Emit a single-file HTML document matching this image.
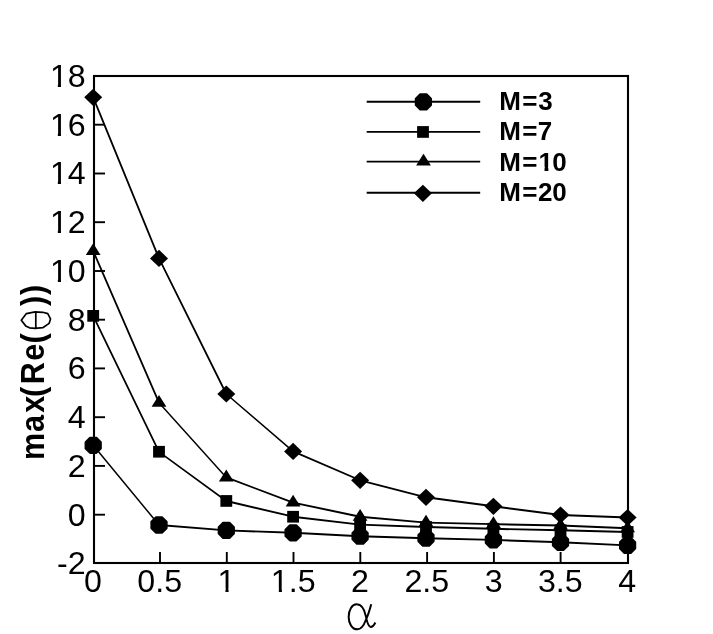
<!DOCTYPE html>
<html><head><meta charset="utf-8"><title>chart</title>
<style>
html,body{margin:0;padding:0;background:#fff;}
body{width:713px;height:634px;overflow:hidden;}
svg{display:block;filter:grayscale(1);}
text{font-family:"Liberation Sans",sans-serif;fill:#000;}
.tk{font-size:32.2px;}
.lg{font-size:26px;font-weight:bold;}
.yt{font-size:31px;font-weight:bold;}
</style></head><body>
<svg width="713" height="634" viewBox="0 0 713 634">
<rect width="713" height="634" fill="#fff"/>
<g stroke="#000" stroke-width="2.1" fill="none" stroke-linecap="square">
<rect x="94.0" y="76.0" width="534.0" height="487.0"/>
</g>
<g stroke="#000" stroke-width="1.9" fill="none">
<path d="M94.0 514.7H105"/>
<path d="M94.0 465.9H105"/>
<path d="M94.0 417.2H105"/>
<path d="M94.0 368.4H105"/>
<path d="M94.0 319.7H105"/>
<path d="M94.0 271.0H105"/>
<path d="M94.0 222.2H105"/>
<path d="M94.0 173.5H105"/>
<path d="M94.0 124.7H105"/>
<path d="M160.0 563.0V552"/>
<path d="M226.8 563.0V552"/>
<path d="M293.5 563.0V552"/>
<path d="M360.3 563.0V552"/>
<path d="M427.1 563.0V552"/>
<path d="M493.9 563.0V552"/>
<path d="M560.6 563.0V552"/>
</g>
<g stroke="#000" fill="none" stroke-linecap="round">
<path d="M93.2 97.3L159.0 258.4" stroke-width="1.81"/>
<path d="M159.0 258.4L226.3 394.0" stroke-width="1.75"/>
<path d="M226.3 394.0L293.1 451.4" stroke-width="1.48"/>
<path d="M293.1 451.4L360.1 480.3" stroke-width="1.79"/>
<path d="M360.1 480.3L426.0 497.3" stroke-width="1.89"/>
<path d="M426.0 497.3L493.4 506.3" stroke-width="1.93"/>
<path d="M493.4 506.3L560.5 515.0" stroke-width="1.93"/>
<path d="M560.5 515.0L627.6 517.5" stroke-width="1.95"/>
<path d="M93.2 251.0L159.0 402.7" stroke-width="1.79"/>
<path d="M159.0 402.7L226.3 477.4" stroke-width="1.45"/>
<path d="M226.3 477.4L293.1 502.6" stroke-width="1.82"/>
<path d="M293.1 502.6L360.1 516.7" stroke-width="1.91"/>
<path d="M360.1 516.7L426.0 522.6" stroke-width="1.94"/>
<path d="M426.0 522.6L493.4 524.1" stroke-width="1.95"/>
<path d="M493.4 524.1L560.5 525.5" stroke-width="1.95"/>
<path d="M560.5 525.5L627.6 528.3" stroke-width="1.95"/>
<path d="M93.2 315.9L159.0 451.8" stroke-width="1.76"/>
<path d="M159.0 451.8L226.3 501.0" stroke-width="1.57"/>
<path d="M226.3 501.0L293.1 516.7" stroke-width="1.90"/>
<path d="M293.1 516.7L360.1 524.6" stroke-width="1.94"/>
<path d="M360.1 524.6L426.0 527.0" stroke-width="1.95"/>
<path d="M426.0 527.0L493.4 528.8" stroke-width="1.95"/>
<path d="M493.4 528.8L560.5 530.3" stroke-width="1.95"/>
<path d="M560.5 530.3L627.6 532.0" stroke-width="1.95"/>
<path d="M93.2 445.3L159.0 525.0" stroke-width="1.50"/>
<path d="M159.0 525.0L226.3 530.4" stroke-width="1.94"/>
<path d="M226.3 530.4L293.1 532.8" stroke-width="1.95"/>
<path d="M293.1 532.8L360.1 536.2" stroke-width="1.95"/>
<path d="M360.1 536.2L426.0 538.2" stroke-width="1.95"/>
<path d="M426.0 538.2L493.4 539.9" stroke-width="1.95"/>
<path d="M493.4 539.9L560.5 542.3" stroke-width="1.95"/>
<path d="M560.5 542.3L627.6 545.4" stroke-width="1.95"/>
</g>
<g stroke="#000" stroke-width="1.9" fill="none">
<path d="M366.7 101.7H480.2"/>
<path d="M366.7 131.9H480.2"/>
<path d="M366.7 161.6H480.2"/>
<path d="M366.7 192.8H480.2"/>
</g>
<g fill="#000" stroke="none">
<path d="M93.2 88.7L102.2 97.3L93.2 105.9L84.2 97.3Z"/>
<path d="M159.0 249.8L168.0 258.4L159.0 267.0L150.0 258.4Z"/>
<path d="M226.3 385.4L235.3 394.0L226.3 402.6L217.3 394.0Z"/>
<path d="M293.1 442.8L302.1 451.4L293.1 460.0L284.1 451.4Z"/>
<path d="M360.1 471.7L369.1 480.3L360.1 488.9L351.1 480.3Z"/>
<path d="M426.0 488.7L435.0 497.3L426.0 505.9L417.0 497.3Z"/>
<path d="M493.4 497.7L502.4 506.3L493.4 514.9L484.4 506.3Z"/>
<path d="M560.5 506.4L569.5 515.0L560.5 523.6L551.5 515.0Z"/>
<path d="M627.6 508.9L636.6 517.5L627.6 526.1L618.6 517.5Z"/>
<path d="M93.2 243.2L100.6 255.0L85.8 255.0Z"/>
<path d="M159.0 394.9L166.4 406.7L151.6 406.7Z"/>
<path d="M226.3 469.6L233.7 481.4L218.9 481.4Z"/>
<path d="M293.1 494.8L300.5 506.6L285.7 506.6Z"/>
<path d="M360.1 508.9L367.5 520.7L352.7 520.7Z"/>
<path d="M426.0 514.8L433.4 526.6L418.6 526.6Z"/>
<path d="M493.4 516.3L500.8 528.1L486.0 528.1Z"/>
<path d="M560.5 517.7L567.9 529.5L553.1 529.5Z"/>
<path d="M627.6 520.5L635.0 532.3L620.2 532.3Z"/>
<rect x="87.3" y="310.0" width="11.8" height="11.7"/>
<rect x="153.1" y="445.9" width="11.8" height="11.7"/>
<rect x="220.4" y="495.1" width="11.8" height="11.7"/>
<rect x="287.2" y="510.9" width="11.8" height="11.7"/>
<rect x="354.2" y="518.8" width="11.8" height="11.7"/>
<rect x="420.1" y="521.1" width="11.8" height="11.7"/>
<rect x="487.5" y="522.9" width="11.8" height="11.7"/>
<rect x="554.6" y="524.4" width="11.8" height="11.7"/>
<rect x="621.7" y="526.1" width="11.8" height="11.7"/>
<polygon points="100.73,448.42 96.32,452.83 90.08,452.83 85.67,448.42 85.67,442.18 90.08,437.77 96.32,437.77 100.73,442.18" stroke="#000" stroke-width="2.2" stroke-linejoin="round"/>
<polygon points="166.53,528.12 162.12,532.53 155.88,532.53 151.47,528.12 151.47,521.88 155.88,517.47 162.12,517.47 166.53,521.88" stroke="#000" stroke-width="2.2" stroke-linejoin="round"/>
<polygon points="233.83,533.52 229.42,537.93 223.18,537.93 218.77,533.52 218.77,527.28 223.18,522.87 229.42,522.87 233.83,527.28" stroke="#000" stroke-width="2.2" stroke-linejoin="round"/>
<polygon points="300.63,535.92 296.22,540.33 289.98,540.33 285.57,535.92 285.57,529.68 289.98,525.27 296.22,525.27 300.63,529.68" stroke="#000" stroke-width="2.2" stroke-linejoin="round"/>
<polygon points="367.63,539.32 363.22,543.73 356.98,543.73 352.57,539.32 352.57,533.08 356.98,528.67 363.22,528.67 367.63,533.08" stroke="#000" stroke-width="2.2" stroke-linejoin="round"/>
<polygon points="433.53,541.32 429.12,545.73 422.88,545.73 418.47,541.32 418.47,535.08 422.88,530.67 429.12,530.67 433.53,535.08" stroke="#000" stroke-width="2.2" stroke-linejoin="round"/>
<polygon points="500.93,543.02 496.52,547.43 490.28,547.43 485.87,543.02 485.87,536.78 490.28,532.37 496.52,532.37 500.93,536.78" stroke="#000" stroke-width="2.2" stroke-linejoin="round"/>
<polygon points="568.03,545.42 563.62,549.83 557.38,549.83 552.97,545.42 552.97,539.18 557.38,534.77 563.62,534.77 568.03,539.18" stroke="#000" stroke-width="2.2" stroke-linejoin="round"/>
<polygon points="635.13,548.52 630.72,552.93 624.48,552.93 620.07,548.52 620.07,542.28 624.48,537.87 630.72,537.87 635.13,542.28" stroke="#000" stroke-width="2.2" stroke-linejoin="round"/>
<polygon points="430.93,105.02 426.52,109.43 420.28,109.43 415.87,105.02 415.87,98.78 420.28,94.37 426.52,94.37 430.93,98.78" stroke="#000" stroke-width="2.2" stroke-linejoin="round"/>
<rect x="417.1" y="126.1" width="11.8" height="11.7"/>
<path d="M423.5 153.8L430.9 165.6L416.1 165.6Z"/>
<path d="M422.9 184.7L431.9 193.3L422.9 201.9L413.9 193.3Z"/>
</g>
<text class="tk" x="85.7" y="574.2" text-anchor="end">-2</text>
<text class="tk" x="85.7" y="525.5" text-anchor="end">0</text>
<text class="tk" x="85.7" y="476.7" text-anchor="end">2</text>
<text class="tk" x="85.7" y="428.0" text-anchor="end">4</text>
<text class="tk" x="85.7" y="379.2" text-anchor="end">6</text>
<text class="tk" x="85.7" y="330.5" text-anchor="end">8</text>
<text class="tk" x="85.7" y="281.8" text-anchor="end">10</text>
<rect x="51.74" y="277.95" width="6.09" height="4.61" fill="#fff"/><rect x="60.98" y="277.95" width="5.84" height="4.61" fill="#fff"/>
<text class="tk" x="85.7" y="233.0" text-anchor="end">12</text>
<rect x="51.74" y="229.21" width="6.09" height="4.61" fill="#fff"/><rect x="60.98" y="229.21" width="5.84" height="4.61" fill="#fff"/>
<text class="tk" x="85.7" y="184.3" text-anchor="end">14</text>
<rect x="51.74" y="180.47" width="6.09" height="4.61" fill="#fff"/><rect x="60.98" y="180.47" width="5.84" height="4.61" fill="#fff"/>
<text class="tk" x="85.7" y="135.5" text-anchor="end">16</text>
<rect x="51.74" y="131.73" width="6.09" height="4.61" fill="#fff"/><rect x="60.98" y="131.73" width="5.84" height="4.61" fill="#fff"/>
<text class="tk" x="85.7" y="86.8" text-anchor="end">18</text>
<rect x="51.74" y="82.99" width="6.09" height="4.61" fill="#fff"/><rect x="60.98" y="82.99" width="5.84" height="4.61" fill="#fff"/>
<text class="tk" x="92.9" y="592.3" text-anchor="middle">0</text>
<text class="tk" x="159.7" y="592.3" text-anchor="middle">0.5</text>
<text class="tk" x="226.4" y="592.3" text-anchor="middle">1</text>
<rect x="219.35" y="588.49" width="6.09" height="4.61" fill="#fff"/><rect x="228.59" y="588.49" width="5.84" height="4.61" fill="#fff"/>
<text class="tk" x="293.2" y="592.3" text-anchor="middle">1.5</text>
<rect x="272.70" y="588.49" width="6.09" height="4.61" fill="#fff"/><rect x="281.94" y="588.49" width="5.84" height="4.61" fill="#fff"/>
<text class="tk" x="360.0" y="592.3" text-anchor="middle">2</text>
<text class="tk" x="426.8" y="592.3" text-anchor="middle">2.5</text>
<text class="tk" x="493.6" y="592.3" text-anchor="middle">3</text>
<text class="tk" x="560.3" y="592.3" text-anchor="middle">3.5</text>
<text class="tk" x="627.1" y="592.3" text-anchor="middle">4</text>
<text class="lg" x="499.3 522.3 538.3" y="110.0">M=3</text>
<text class="lg" x="499.3 522.3 537.8" y="139.8">M=7</text>
<text class="lg" x="499.3 522.3 538.6 552.2" y="170.7">M=10</text>
<rect x="539.64" y="166.75" width="4.88" height="4.85" fill="#fff"/><rect x="548.39" y="166.75" width="4.55" height="4.85" fill="#fff"/>
<text class="lg" x="499.3 522.3 538.0 552.2" y="200.6">M=20</text>
<g transform="translate(43.9,459.5) rotate(-90) scale(0.91,1)"><text class="yt" style="font-size:33.5px" x="-0.44 30.22 51.43 68.68 82.75 108.46 127.47" y="0">max(Re(</text><text class="yt" style="font-size:33.5px" x="168.68 180.77" y="0">))</text></g>
<path d="M21.3 320.3 L26.4 313.6 L35.2 311.9 L42.8 312.3 L47.8 313.6 L50.5 318.9 L49.1 323.4 L42.8 327.7 L35.2 328.3 L29.5 327.8 L25.7 325.9Z M35.8 311.9L35.8 328.3" fill="none" stroke="#000" stroke-width="1.7" stroke-linejoin="round"/>
<path d="M371.22 604.32 C369.25 611.68, 367.78 616.10, 365.82 620.02 C363.86 625.42, 360.42 629.35, 357.28 629.35 C352.08 629.35, 348.65 623.46, 348.65 617.08 C348.65 609.72, 352.08 604.32, 356.69 604.32 C361.40 604.32, 364.54 609.72, 365.82 616.10 C366.80 621.01, 368.27 626.89, 370.73 626.89 C372.69 626.89, 374.16 624.93, 375.34 622.48" fill="none" stroke="#000" stroke-width="2" stroke-linecap="butt"/>
</svg></body></html>
